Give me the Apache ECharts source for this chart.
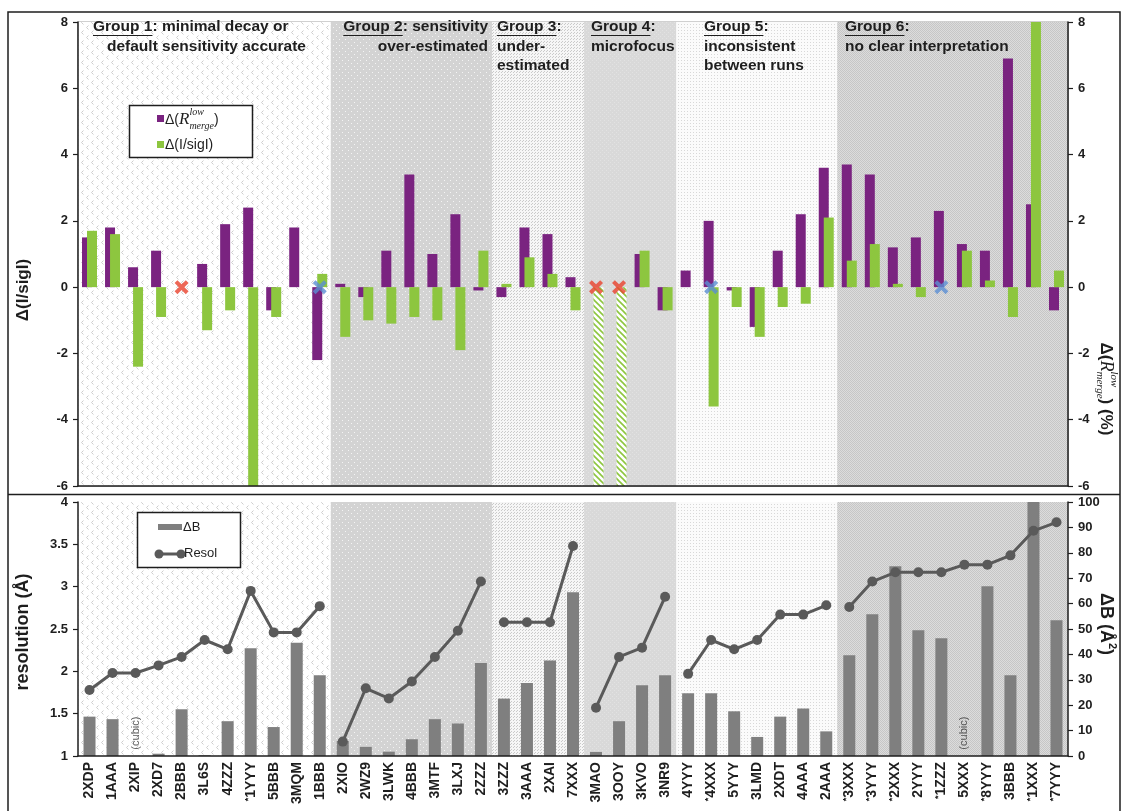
<!DOCTYPE html>
<html>
<head>
<meta charset="utf-8">
<script src="https://cdn.jsdelivr.net/npm/echarts@6/dist/echarts.min.js"></script>
<style>
  html, body { margin: 0; padding: 0; background: #fff; }
  #chart { width: 1126px; height: 811px; }
</style>
</head>
<body>
<div id="chart"></div>
<script>
// ---- data ----
const categories = ['2XDP','1AAA','2XIP','2XD7','2BBB','3L6S','4ZZZ','*1YYY','5BBB','3MQM','1BBB',
  '2XIO','2WZ9','3LWK','4BBB','3MTF','3LXJ','2ZZZ',
  '3ZZZ','3AAA','2XAI','7XXX',
  '3MAO','3OOY','3KVO','3NR9',
  '4YYY','*4XXX','5YYY','3LMD','2XDT','4AAA','2AAA',
  '*3XXX','*3YYY','*2XXX','2YYY','*1ZZZ','5XXX','*8YYY','3BBB','*1XXX','*7YYY'];
const groupSizes = [11, 7, 4, 4, 7, 10];

// Δ(R_merge low) in %, right axis of the upper panel
const deltaRmerge = [1.5,1.8,0.6,1.1,'-',0.7,1.9,2.4,-0.7,1.8,-2.2,
  0.1,-0.3,1.1,3.4,1.0,2.2,-0.1,
  -0.3,1.8,1.6,0.3,
  '-','-',1.0,-0.7,
  0.5,2.0,-0.1,-1.2,1.1,2.2,3.6,
  3.7,3.4,1.2,1.5,2.3,1.3,1.1,6.9,2.5,-0.7];
// Δ(I/sigI), left axis of the upper panel
const deltaIsig = [1.7,1.6,-2.4,-0.9,'-',-1.3,-0.7,-6,-0.9,'-',0.4,
  -1.5,-1.0,-1.1,-0.9,-1.0,-1.9,1.1,
  0.1,0.9,0.4,-0.7,
  -6,-6,1.1,-0.7,
  '-',-3.6,-0.6,-1.5,-0.6,-0.5,2.1,
  0.8,1.3,0.1,-0.3,'-',1.1,0.2,-0.9,8,0.5];
const hatchedCats = ['3MAO','3OOY'];
const redCrossCats = ['2BBB','3MAO','3OOY'];
const blueCrossCats = ['1BBB','*4XXX','*1ZZZ'];

// lower panel
const deltaB = [15.5,14.5,'-',0.9,18.4,0.3,13.7,42.4,11.4,44.6,31.8,
  5.9,3.6,1.7,6.6,14.5,12.8,36.6,
  22.6,28.7,37.6,64.5,
  1.6,13.7,27.9,31.8,
  24.7,24.7,17.6,7.5,15.5,18.7,9.7,
  39.7,55.8,74.7,49.5,46.4,'-',66.8,31.8,100,53.4];
const resolution = [1.78,1.98,1.98,2.07,2.17,2.37,2.26,2.95,2.46,2.46,2.77,
  1.17,1.80,1.68,1.88,2.17,2.48,3.06,
  2.58,2.58,2.58,3.48,
  1.57,2.17,2.28,2.88,
  1.97,2.37,2.26,2.37,2.67,2.67,2.78,
  2.76,3.06,3.17,3.17,3.17,3.26,3.26,3.37,3.66,3.76];
const cubicCats = ['2XIP','5XXX'];
const cubicLabelAt = 9;

const leftTopTicks = { min: -6, max: 8, step: 2 };
const leftBottomTicks = { min: 1, max: 4, step: 0.5 };
const rightBottomTicks = { min: 0, max: 100, step: 10 };

// ---- styles ----
const SANS = "'Liberation Sans', Arial, sans-serif";
const SERIF = "'Liberation Serif', 'Times New Roman', serif";
const INK = '#1e1e1e';
const PURPLE = '#7a2380';
const GREEN = '#8dc63f';
const BAR_GRAY = '#7f7f7f';
const LINE_GRAY = '#5a5a5a';

// group index of every category
const groupOf = [];
groupSizes.forEach((n, g) => { for (let i = 0; i < n; i++) groupOf.push(g); });

// background textures for the six groups
function pattern(w, h, bg, draw) {
  const c = document.createElement('canvas');
  c.width = w; c.height = h;
  const g = c.getContext('2d');
  g.fillStyle = bg; g.fillRect(0, 0, w, h);
  draw(g);
  return { image: c, repeat: 'repeat' };
}
const groupFills = [
  pattern(10, 10, '#ffffff', g => {
    g.strokeStyle = '#cdcdcd'; g.lineWidth = 1;
    g.beginPath(); g.moveTo(3.5, 0.5); g.lineTo(1.5, 2.5); g.lineTo(3.5, 4.5); g.stroke();
    g.beginPath(); g.moveTo(8.5, 5.5); g.lineTo(6.5, 7.5); g.lineTo(8.5, 9.5); g.stroke();
  }),
  pattern(6, 6, '#d3d3d3', g => {
    g.fillStyle = '#f4f4f4'; g.fillRect(0, 0, 1, 1); g.fillRect(3, 3, 1, 1);
  }),
  pattern(3, 3, '#f6f6f6', g => {
    g.fillStyle = '#cacaca'; g.fillRect(0, 0, 1, 1); g.fillRect(1, 2, 1, 1);
  }),
  pattern(4, 4, '#d9d9d9', g => {
    g.fillStyle = '#e2e2e2'; g.fillRect(0, 0, 1, 1); g.fillRect(2, 2, 1, 1);
  }),
  pattern(3, 3, '#fbfbfb', g => {
    g.fillStyle = '#d8d8d8'; g.fillRect(0, 0, 1, 1);
  }),
  pattern(2, 2, '#dcdcdc', g => {
    g.fillStyle = '#c6c6c6'; g.fillRect(0, 0, 1, 1); g.fillRect(1, 1, 1, 1);
  })
];
const hatchFill = pattern(6, 6, '#ffffff', g => {
  g.strokeStyle = GREEN; g.lineWidth = 1.6;
  g.beginPath(); g.moveTo(-1, -1); g.lineTo(7, 7); g.stroke();
  g.beginPath(); g.moveTo(-1, 5); g.lineTo(1, 7); g.stroke();
  g.beginPath(); g.moveTo(5, -1); g.lineTo(7, 1); g.stroke();
});

// ---- text helpers ----
const TEXT_Z = 20;
const mctx = document.createElement('canvas').getContext('2d');
function textWidth(font, t) { mctx.font = font; return mctx.measureText(t).width; }
function textEl(t, font, x, y) {
  return { type: 'text', x, y, z: TEXT_Z, silent: true,
    style: { text: t, font, fill: INK, align: 'left', textAlign: 'left',
             verticalAlign: 'middle', textVerticalAlign: 'middle' } };
}

// lays out runs of text side by side; a run with stack:true shares the x of the previous run
function textRun(parts, x, y, rotation, anchor) {
  let cx = 0, prevX = 0, prevW = 0;
  const placed = [];
  parts.forEach(p => {
    const w = textWidth(p.font, p.t);
    let px;
    if (p.stack) { px = prevX; cx = prevX + Math.max(prevW, w); }
    else { px = cx; cx += w; prevX = px; prevW = w; }
    placed.push({ p, px });
  });
  const off = anchor === 'center' ? -cx / 2 : 0;
  return {
    type: 'group', x, y, rotation: rotation || 0, silent: true, z: TEXT_Z,
    children: placed.map(({ p, px }) => textEl(p.t, p.font, px + off, p.dy || 0))
  };
}

const HFONT = `bold 15.5px ${SANS}`;
const LINE_GAP = 19.5;
const HEAD_TOP = 27;
// group captions of the upper panel: first line carries the underlined "Group n"
const headers = [
  { tag: 'Group 1', lines: [': minimal decay or', 'default sensitivity accurate'], xs: [93, 107], align: 'left' },
  { tag: 'Group 2', lines: [': sensitivity', 'over-estimated'], xs: [488, 488], align: 'right' },
  { tag: 'Group 3', lines: [':', 'under-', 'estimated'], xs: [497, 497, 497], align: 'left' },
  { tag: 'Group 4', lines: [':', 'microfocus'], xs: [591, 591], align: 'left' },
  { tag: 'Group 5', lines: [':', 'inconsistent', 'between runs'], xs: [704, 704, 704], align: 'left' },
  { tag: 'Group 6', lines: [':', 'no clear interpretation'], xs: [845, 845], align: 'left' }
];
function headerGraphics() {
  const out = [];
  headers.forEach(h => {
    h.lines.forEach((ln, i) => {
      const txt = i === 0 ? h.tag + ln : ln;
      const w = textWidth(HFONT, txt);
      const left = h.align === 'right' ? h.xs[i] - w : h.xs[i];
      const y = HEAD_TOP + i * LINE_GAP;
      out.push(textEl(txt, HFONT, left, y));
      if (i === 0) {
        const tw = textWidth(HFONT, h.tag);
        out.push({ type: 'line', silent: true, z: TEXT_Z,
          shape: { x1: left, y1: y + 8.5, x2: left + tw, y2: y + 8.5 },
          style: { stroke: INK, lineWidth: 1.2 } });
      }
    });
  });
  return out;
}

const crossPath = 'path://M2,0 L5,3 L8,0 L10,2 L7,5 L10,8 L8,10 L5,7 L2,10 L0,8 L3,5 L0,2 Z';

// ---- series ----
// one full-band bar per category, slightly wider than the band so no seams show
const bgTop = {
  type: 'bar', xAxisIndex: 2, yAxisIndex: 4, barWidth: 24, silent: true, z: 0,
  data: categories.map((c, i) => ({ value: 1, itemStyle: { color: groupFills[groupOf[i]] } }))
};
const bgBottom = Object.assign({}, bgTop, { xAxisIndex: 3, yAxisIndex: 5 });

const purpleSeries = {
  name: 'dR', type: 'bar', xAxisIndex: 0, yAxisIndex: 1, barWidth: 10, barGap: '-50%', z: 3,
  itemStyle: { color: PURPLE }, data: deltaRmerge
};
const greenSeries = {
  name: 'dI', type: 'bar', xAxisIndex: 0, yAxisIndex: 0, barWidth: 10, barGap: '-50%', z: 3,
  data: deltaIsig.map((v, i) => hatchedCats.includes(categories[i])
    ? { value: v, itemStyle: { color: hatchFill } }
    : { value: v, itemStyle: { color: GREEN } })
};
const crossSeries = (cats, color) => ({
  type: 'scatter', xAxisIndex: 0, yAxisIndex: 0, symbol: crossPath, symbolSize: 14, z: 6,
  itemStyle: { color }, data: cats.map(c => [c, 0])
});

const deltaBSeries = {
  name: 'ΔB', type: 'bar', xAxisIndex: 1, yAxisIndex: 3, barWidth: 12, z: 3,
  itemStyle: { color: BAR_GRAY }, data: deltaB
};
// resolution line is drawn per group, so it breaks between groups
const resolSeries = [];
let start = 0;
groupSizes.forEach(n => {
  const s = start;
  resolSeries.push({
    name: 'Resol', type: 'line', xAxisIndex: 1, yAxisIndex: 2, z: 4,
    symbol: 'circle', symbolSize: 10, showSymbol: true,
    lineStyle: { color: LINE_GRAY, width: 3 }, itemStyle: { color: LINE_GRAY },
    data: resolution.map((v, i) => (i >= s && i < s + n) ? v : '-')
  });
  start += n;
});
const cubicSeries = {
  type: 'scatter', xAxisIndex: 1, yAxisIndex: 3, symbolSize: 1, z: 5,
  itemStyle: { color: 'rgba(0,0,0,0)' },
  label: { show: true, position: 'inside', rotate: 90, formatter: '(cubic)',
           fontSize: 11, fontFamily: SANS, color: '#333' },
  data: cubicCats.map(c => [c, cubicLabelAt])
};

// ---- axes ----
const axisLineStyle = { color: INK, width: 1.5 };
const tickLabel = { fontSize: 13, fontWeight: 'bold', color: INK, fontFamily: SANS };
function valueAxis(grid, pos, t) {
  return {
    type: 'value', gridIndex: grid, position: pos, min: t.min, max: t.max, interval: t.step,
    axisLine: { show: true, lineStyle: axisLineStyle },
    axisTick: { show: true, length: 5, lineStyle: { color: INK, width: 1.2 } },
    splitLine: { show: false },
    axisLabel: Object.assign({ margin: 10 }, tickLabel),
    z: 6
  };
}
const catAxisBase = (grid) => ({
  type: 'category', gridIndex: grid, data: categories, position: 'bottom', boundaryGap: true,
  axisLine: { onZero: false, lineStyle: axisLineStyle },
  axisTick: { interval: 0, length: 6, lineStyle: { color: INK, width: 1.2 } },
  z: 6
});

const option = {
  animation: false,
  backgroundColor: '#ffffff',
  textStyle: { fontFamily: SANS },
  grid: [
    { left: 78, right: 58, top: 22, height: 464, show: true, borderColor: '#a0a0a0', borderWidth: 1, backgroundColor: 'transparent' },
    { left: 78, right: 58, top: 502, height: 254 }
  ],
  xAxis: [
    Object.assign(catAxisBase(0), { axisLabel: { show: false } }),
    Object.assign(catAxisBase(1), {
      axisLabel: {
        show: true, interval: 0, rotate: 90, margin: 6,
        fontSize: 14, fontWeight: 'bold', color: INK, fontFamily: SANS,
        formatter: v => v.charAt(0) === '*' ? '{s|*}' + v.slice(1) : v,
        rich: { s: { fontSize: 9, fontWeight: 'bold', color: INK, fontFamily: SANS, verticalAlign: 'top' } }
      }
    }),
    { type: 'category', gridIndex: 0, data: categories, show: false },
    { type: 'category', gridIndex: 1, data: categories, show: false }
  ],
  yAxis: [
    valueAxis(0, 'left', leftTopTicks),
    valueAxis(0, 'right', leftTopTicks),
    valueAxis(1, 'left', leftBottomTicks),
    valueAxis(1, 'right', rightBottomTicks),
    { type: 'value', gridIndex: 0, min: 0, max: 1, show: false },
    { type: 'value', gridIndex: 1, min: 0, max: 1, show: false }
  ],
  series: [bgTop, bgBottom, deltaBSeries, ...resolSeries, purpleSeries, greenSeries,
           crossSeries(redCrossCats, '#e8412c'), crossSeries(blueCrossCats, '#5b8fd3'), cubicSeries],
  graphic: []
};

// ---- frame, captions, axis titles and legends ----
const B17 = `bold 17px ${SANS}`;
const graphics = [
  { type: 'rect', silent: true, z: 10, shape: { x: 8, y: 12, width: 1112, height: 830 },
    style: { fill: 'none', stroke: INK, lineWidth: 1.5 } },
  { type: 'line', silent: true, z: 10, shape: { x1: 8, y1: 494.5, x2: 1120, y2: 494.5 },
    style: { stroke: INK, lineWidth: 1.5 } },
  ...headerGraphics(),
  // axis titles
  textRun([{ t: 'Δ(I/sigI)', font: B17 }], 23, 290, Math.PI / 2, 'center'),
  textRun([{ t: 'resolution (Å)', font: `bold 18px ${SANS}` }], 23, 632, Math.PI / 2, 'center'),
  textRun([
    { t: 'Δ(', font: B17 },
    { t: 'R', font: `italic 18px ${SERIF}` },
    { t: 'low', font: `italic 11px ${SERIF}`, dy: -8 },
    { t: 'merge', font: `italic 11px ${SERIF}`, dy: 6, stack: true },
    { t: ') (%)', font: B17 }
  ], 1106, 389, -Math.PI / 2, 'center'),
  textRun([
    { t: 'ΔB (Å', font: `bold 18px ${SANS}` },
    { t: '2', font: `bold 11px ${SANS}`, dy: -6 },
    { t: ')', font: `bold 18px ${SANS}` }
  ], 1106, 624, -Math.PI / 2, 'center'),
  // legend of the upper panel
  { type: 'rect', silent: true, z: 15, shape: { x: 129.5, y: 105.5, width: 123, height: 52 },
    style: { fill: '#ffffff', stroke: INK, lineWidth: 1.5 } },
  { type: 'rect', silent: true, z: 16, shape: { x: 157, y: 115, width: 7, height: 7 }, style: { fill: PURPLE } },
  { type: 'rect', silent: true, z: 16, shape: { x: 157, y: 141, width: 7, height: 7 }, style: { fill: GREEN } },
  textRun([
    { t: 'Δ(', font: `14px ${SANS}` },
    { t: 'R', font: `italic 17px ${SERIF}` },
    { t: 'low', font: `italic 10px ${SERIF}`, dy: -8 },
    { t: 'merge', font: `italic 10px ${SERIF}`, dy: 6, stack: true },
    { t: ')', font: `14px ${SANS}` }
  ], 165, 120, 0, 'left'),
  textRun([{ t: 'Δ(I/sigI)', font: `14px ${SANS}` }], 165, 145, 0, 'left'),
  // legend of the lower panel
  { type: 'rect', silent: true, z: 15, shape: { x: 137.5, y: 512.5, width: 103, height: 55 },
    style: { fill: '#ffffff', stroke: INK, lineWidth: 1.5 } },
  { type: 'rect', silent: true, z: 16, shape: { x: 158, y: 524, width: 24, height: 6 }, style: { fill: BAR_GRAY } },
  textRun([{ t: 'ΔB', font: `13px ${SANS}` }], 183, 527, 0, 'left'),
  { type: 'line', silent: true, z: 16, shape: { x1: 159, y1: 554, x2: 181, y2: 554 }, style: { stroke: LINE_GRAY, lineWidth: 3 } },
  { type: 'circle', silent: true, z: 16, shape: { cx: 159, cy: 554, r: 4.5 }, style: { fill: LINE_GRAY } },
  { type: 'circle', silent: true, z: 16, shape: { cx: 181, cy: 554, r: 4.5 }, style: { fill: LINE_GRAY } },
  textRun([{ t: 'Resol', font: `13px ${SANS}` }], 184, 553, 0, 'left')
];
option.graphic = graphics;

const chart = echarts.init(document.getElementById('chart'), null, { renderer: 'canvas' });
chart.setOption(option);
</script>
</body>
</html>
